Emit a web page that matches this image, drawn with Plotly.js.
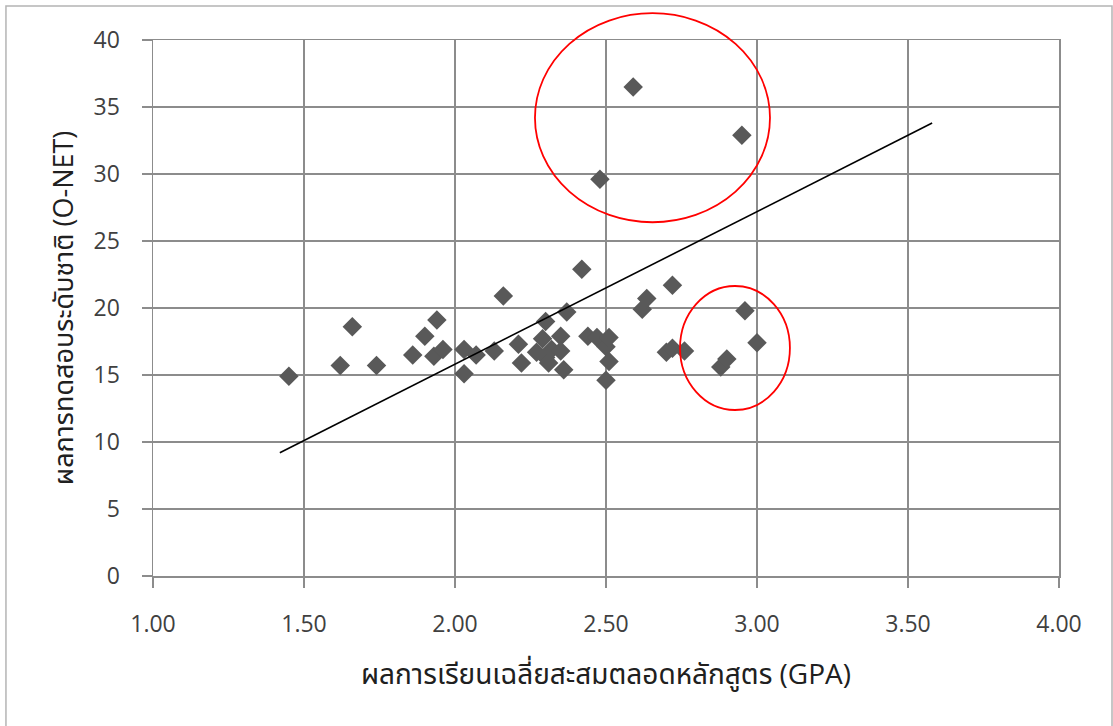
<!DOCTYPE html>
<html>
<head>
<meta charset="utf-8">
<script src="https://cdn.plot.ly/plotly-3.0.1.min.js"></script>
<style>html,body{margin:0;padding:0;background:#fff;}#chart{width:1113px;height:726px;}</style>
</head>
<body>
<div id="chart"></div>
<script>
// GPA (x) and O-NET score (y) of each student
const gpa = [1.45,1.62,1.66,1.74,1.86,1.90,1.93,1.94,1.96,2.03,2.03,2.07,2.13,2.16,2.21,2.22,2.27,2.29,2.30,2.30,2.31,2.32,2.35,2.35,2.36,2.37,2.42,2.44,2.47,2.48,2.50,2.50,2.51,2.51,2.59,2.62,2.635,2.70,2.72,2.72,2.76,2.88,2.90,2.95,2.96,3.00];
const onet = [14.9,15.7,18.6,15.7,16.5,17.9,16.4,19.1,16.9,16.9,15.1,16.5,16.8,20.9,17.3,15.9,16.7,17.7,19.0,16.3,15.9,16.9,17.9,16.8,15.4,19.7,22.9,17.9,17.8,29.6,17.1,14.6,17.8,16.0,36.5,19.9,20.7,16.7,21.7,17.0,16.8,15.6,16.2,32.9,19.8,17.4];
// trend line end points
const trendX = [1.42, 3.58];
const trendY = [9.2, 33.8];
// axis ticks
const xTicks = [1.0,1.5,2.0,2.5,3.0,3.5,4.0];
const xTickLabels = ["1.00","1.50","2.00","2.50","3.00","3.50","4.00"];
const yTicks = [0,5,10,15,20,25,30,35,40];

const font = '"Open Sans", "Noto Sans", "Noto Sans Thai", "DejaVu Sans", sans-serif';
const grid = '#8c8c8c';

const traces = [
  {x: gpa, y: onet, type: 'scatter', mode: 'markers',
   marker: {symbol: 'diamond', size: 15, color: '#595959'}, hoverinfo: 'x+y'},
  {x: trendX, y: trendY, type: 'scatter', mode: 'lines',
   line: {color: '#000000', width: 1.6}, hoverinfo: 'skip'}
];

const layout = {
  width: 1113, height: 726,
  margin: {l: 153, r: 54, t: 40, b: 150},
  paper_bgcolor: '#ffffff', plot_bgcolor: '#ffffff',
  showlegend: false,
  font: {family: font, color: '#404040', size: 22},
  xaxis: {
    range: [1, 4], tickvals: xTicks, ticktext: xTickLabels,
    showgrid: true, gridcolor: grid, gridwidth: 1.5,
    showline: true, linecolor: grid, linewidth: 1.5, mirror: true,
    ticks: 'outside', ticklen: 10, tickcolor: grid, tickwidth: 1.5,
    ticklabelstandoff: 17,
    zeroline: false, fixedrange: true,
    tickfont: {size: 23, color: '#404040'},
    title: {text: 'ผลการเรียนเฉลี่ยสะสมตลอดหลักสูตร (GPA)', font: {size: 28, color: '#202020'}, standoff: 26}
  },
  yaxis: {
    range: [0, 40], tickvals: yTicks,
    showgrid: true, gridcolor: grid, gridwidth: 1.5,
    showline: true, linecolor: grid, linewidth: 1.5, mirror: true,
    ticks: 'outside', ticklen: 10, tickcolor: grid, tickwidth: 1.5,
    ticklabelstandoff: 17,
    zeroline: false, fixedrange: true,
    tickfont: {size: 23, color: '#404040'},
    title: {text: 'ผลการทดสอบระดับชาติ (O-NET)', font: {size: 27, color: '#202020'}, standoff: 12}
  },
  shapes: [
    {type: 'rect', xref: 'paper', yref: 'paper', x0: -0.1623, x1: 1.0585, y0: -0.32, y1: 1.0634,
     line: {color: '#b4b4b4', width: 1.5}, fillcolor: 'rgba(0,0,0,0)', layer: 'below'},
    {type: 'circle', xref: 'paper', yref: 'paper', x0: 0.4216, x1: 0.681, y0: 0.660, y1: 1.050,
     line: {color: '#ff0000', width: 1.8}},
    {type: 'circle', xref: 'paper', yref: 'paper', x0: 0.5817, x1: 0.703, y0: 0.3097, y1: 0.541,
     line: {color: '#ff0000', width: 1.8}}
  ]
};

Plotly.newPlot('chart', traces, layout, {displayModeBar: false, staticPlot: true});
</script>
</body>
</html>
